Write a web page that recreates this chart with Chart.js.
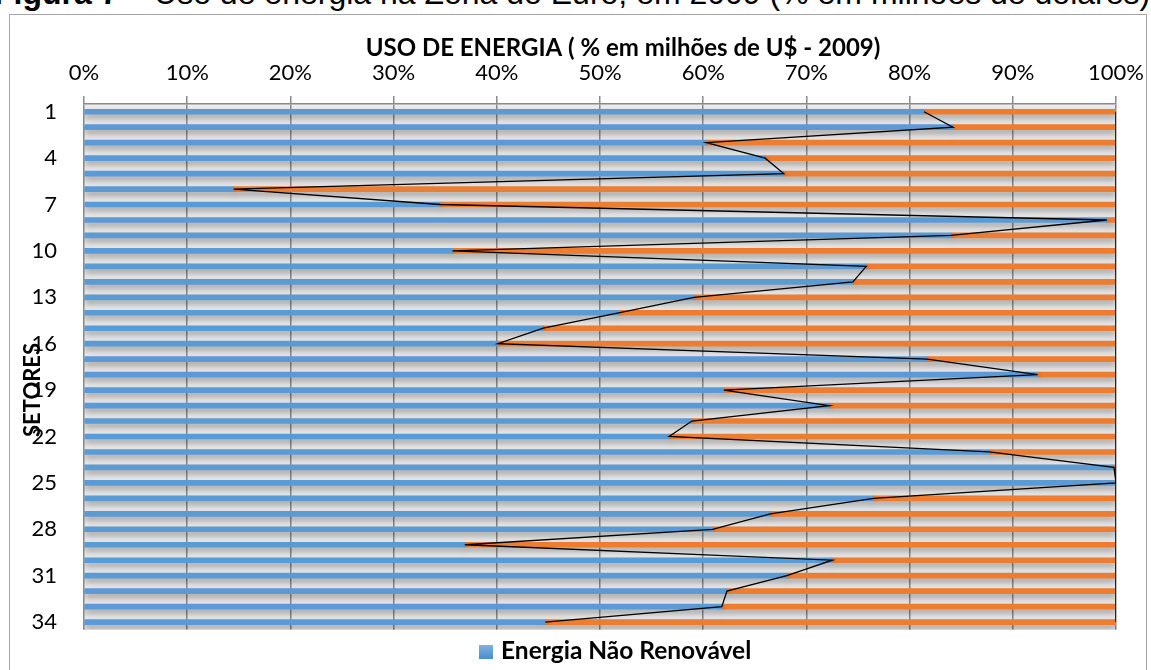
<!DOCTYPE html>
<html>
<head>
<meta charset="utf-8">
<script src="https://cdn.jsdelivr.net/npm/chart.js@4.4.1/dist/chart.umd.min.js"></script>
<style>
  body { margin: 0; width: 1151px; height: 670px; overflow: hidden; background: #fff; position: relative; }
  #title { position: absolute; left: -6px; top: -23px; white-space: nowrap; font-family: 'Liberation Sans', Arial, sans-serif; font-size: 32px; line-height: 32px; color: #000; }
  #frame { position: absolute; left: 9px; top: 14px; width: 1138px; height: 700px; border: 1px solid #a6a6a6; box-sizing: border-box; }
  #wrap { position: absolute; left: 10px; top: 15px; width: 1144px; height: 655px; }
  #legend { position: absolute; left: 479px; top: 635px; font-family: Lato, sans-serif; font-weight: bold; font-size: 24.5px; color: #000; white-space: nowrap; }
  #legend span.box { display: inline-block; width: 14px; height: 14px; background: linear-gradient(#7fb2e0, #4a8ccc); margin-right: 8px; vertical-align: 0px; }
</style>
</head>
<body>
<div id="title"><b>Figura 7</b> – Uso de energia na Zona do Euro, em 2009 (% em milhões de dólares)</div>
<div id="frame"></div>
<div id="wrap"><canvas id="myChart"></canvas></div>
<div id="legend"><span class="box"></span>Energia Não Renovável</div>
<script>
// setores 1..34
const setores = ['1','2','3','4','5','6','7','8','9','10','11','12','13','14','15','16','17',
  '18','19','20','21','22','23','24','25','26','27','28','29','30','31','32','33','34'];

// % energia nao renovavel
const naoRenovavel = [81.4, 84.2, 60.3, 66.0, 67.8, 14.5, 34.5, 99.1, 84.0, 35.7,
  75.8, 74.5, 59.1, 51.8, 44.5, 40.1, 81.7, 92.4, 62.0, 72.2,
  58.9, 56.7, 87.7, 99.8, 100, 76.5, 66.5, 60.9, 36.9, 72.5,
  68.1, 62.3, 61.8, 44.7];

// restante = renovavel
const renovavel = naoRenovavel.map(v => +(100 - v).toFixed(1));
const total = naoRenovavel.map((v, i) => v + renovavel[i]);

const xTicks = [0, 10, 20, 30, 40, 50, 60, 70, 80, 90, 100];

const tituloX = 'USO DE ENERGIA ( % em milhões de U$ - 2009)';
const tituloY = 'SETORES';

Chart.defaults.font.family = 'Lato';
Chart.defaults.color = '#000';

// fundo cinza da area do grafico
const plotBg = {
  id: 'plotBg',
  beforeDraw(chart) {
    const {ctx, chartArea: a} = chart;
    ctx.save();
    ctx.fillStyle = '#ececec';
    ctx.fillRect(a.left, a.top, a.right - a.left, a.bottom - a.top);
    ctx.restore();
  }
};

// sombra das barras
const barShadow = {
  id: 'barShadow',
  beforeDatasetDraw(chart, args) {
    if (args.meta.type !== 'bar') return;
    const ctx = chart.ctx;
    ctx.save();
    ctx.shadowColor = 'rgba(0,0,0,0.35)';
    ctx.shadowBlur = 6;
    ctx.shadowOffsetY = 4;
  },
  afterDatasetDraw(chart, args) {
    if (args.meta.type !== 'bar') return;
    chart.ctx.restore();
  }
};

// titulos dos eixos (como no excel: x deslocado, y sobreposto aos rotulos)
const axisTitles = {
  id: 'axisTitles',
  afterDraw(chart) {
    const ctx = chart.ctx;
    ctx.save();
    ctx.fillStyle = '#000';
    ctx.textAlign = 'center';
    ctx.textBaseline = 'middle';
    ctx.font = 'bold 24px Lato';
    ctx.fillText(tituloX, 613, 33);
    ctx.translate(23, 375);
    ctx.rotate(-Math.PI / 2);
    ctx.font = 'bold 22px Lato';
    ctx.fillText(tituloY, 0, 0);
    ctx.restore();
  }
};

const ctx = document.getElementById('myChart').getContext('2d');
new Chart(ctx, {
  type: 'bar',
  data: {
    labels: setores,
    datasets: [
      {
        type: 'line',
        label: 'linhas1',
        data: naoRenovavel,
        stack: 'l1',
        borderColor: '#000',
        borderWidth: 1.3,
        pointRadius: 0,
        tension: 0
      },
      {
        type: 'line',
        label: 'linhas2',
        data: total,
        stack: 'l2',
        borderColor: '#000',
        borderWidth: 1.5,
        pointRadius: 0,
        tension: 0
      },
      {
        label: 'Energia Não Renovável',
        data: naoRenovavel,
        stack: 'b',
        backgroundColor: '#5B9BD5',
        barThickness: 5
      },
      {
        label: 'Energia Renovável',
        data: renovavel,
        stack: 'b',
        backgroundColor: '#ED7D31',
        barThickness: 5
      }
    ]
  },
  options: {
    indexAxis: 'y',
    responsive: true,
    maintainAspectRatio: false,
    animation: false,
    layout: { padding: { left: 0, right: 24, top: 0, bottom: 40 } },
    plugins: {
      legend: { display: false },
      tooltip: { enabled: false }
    },
    scales: {
      x: {
        position: 'top',
        stacked: true,
        min: 0,
        max: 100,
        afterBuildTicks(scale) { scale.ticks = xTicks.map(v => ({value: v})); },
        afterFit(scale) { scale.height = 89; },
        ticks: {
          padding: 10,
          font: { size: 22 },
          callback: v => v + '%'
        },
        grid: { color: '#8a8a8a', lineWidth: 1.5, tickLength: 8 },
        border: { display: true, color: '#8a8a8a', width: 1.5 }
      },
      y: {
        stacked: true,
        afterFit(scale) { scale.width = 74; },
        grid: { display: false, drawTicks: false },
        border: { display: false },
        ticks: {
          autoSkip: false,
          padding: 27,
          font: { size: 22 },
          callback(val, idx) { return idx % 3 === 0 ? this.getLabelForValue(val) : ''; }
        }
      }
    }
  },
  plugins: [plotBg, barShadow, axisTitles]
});
</script>
</body>
</html>
